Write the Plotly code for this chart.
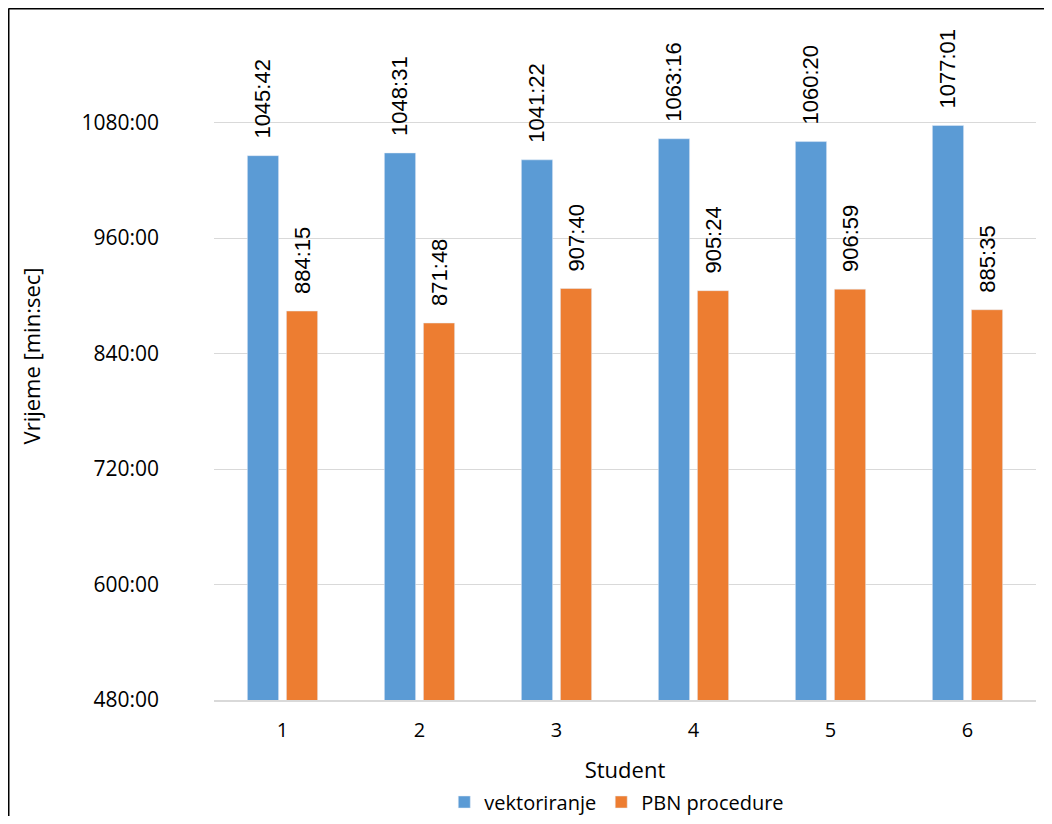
import plotly.graph_objects as go

students = ["1", "2", "3", "4", "5", "6"]
vektoriranje = ["1045:42", "1048:31", "1041:22", "1063:16", "1060:20", "1077:01"]
pbn = ["884:15", "871:48", "907:40", "905:24", "906:59", "885:35"]
tick_vals = [480, 600, 720, 840, 960, 1080]
tick_text = ["480:00", "600:00", "720:00", "840:00", "960:00", "1080:00"]


def to_min(s):
    m, sec = s.split(":")
    return int(m) + int(sec) / 60.0


PAD = "\u00a0" * 2 + "\u200a"
FONT = "Open Sans"
LABEL_FONT = dict(family="Liberation Sans", size=22, color="#000000")

fig = go.Figure()
fig.add_trace(go.Bar(
    x=students, y=[to_min(v) for v in vektoriranje], name="vektoriranje",
    marker=dict(color="#5B9BD5"),
    text=[PAD + v for v in vektoriranje], textposition="outside", textangle=-90,
    textfont=LABEL_FONT, constraintext="none", cliponaxis=False,
))
fig.add_trace(go.Bar(
    x=students, y=[to_min(v) for v in pbn], name="PBN procedure",
    marker=dict(color="#ED7D31"),
    text=[PAD + v for v in pbn], textposition="outside", textangle=-90,
    textfont=LABEL_FONT, constraintext="none", cliponaxis=False,
))

# figure coordinates (page body has an 8px margin)
W, H = 1044, 808
L, R, T, B = 206, 16, 4, 116
pw, ph = W - L - R, H - T - B

fig.update_layout(
    width=W, height=H,
    margin=dict(l=L, r=R, t=T, b=B, autoexpand=False),
    paper_bgcolor="white", plot_bgcolor="white",
    barmode="group", bargap=0.43, bargroupgap=0.2,
    font=dict(family=FONT, size=21, color="#000000"),
    showlegend=True,
    legend=dict(orientation="h", x=0.49, xanchor="center",
                y=-(794 - (H - B)) / ph, yanchor="middle",
                font=dict(family=FONT, size=20), itemwidth=30),
    xaxis=dict(
        title=dict(text="Student", font=dict(family=FONT, size=22), standoff=21),
        showgrid=False, showline=True, linecolor="#d9d9d9", linewidth=2,
        ticks="", ticklabelstandoff=11, automargin=False,
        tickfont=dict(family=FONT, size=20),
    ),
    yaxis=dict(
        title=dict(text="Vrijeme [min:sec]", font=dict(family=FONT, size=22), standoff=34),
        range=[480, 1195], tickvals=tick_vals, ticktext=tick_text,
        showgrid=True, gridcolor="#d9d9d9", gridwidth=1,
        zeroline=False, showline=False, ticks="", ticklabelstandoff=54,
        automargin=False,
        tickfont=dict(family=FONT, size=21),
    ),
    shapes=[
        dict(type="line", xref="paper", yref="paper",
             x0=(0.5 - L) / pw, x1=(0.5 - L) / pw,
             y0=-(H + 20 - T - ph) / ph, y1=1 + (T - 0.5) / ph,
             line=dict(color="#000000", width=2), layer="above"),
        dict(type="line", xref="paper", yref="paper",
             x0=(0.5 - L) / pw, x1=(W + 20 - L) / pw,
             y0=1 + (T - 0.5) / ph, y1=1 + (T - 0.5) / ph,
             line=dict(color="#000000", width=2), layer="above"),
    ],
)

fig.write_html("out.html")
